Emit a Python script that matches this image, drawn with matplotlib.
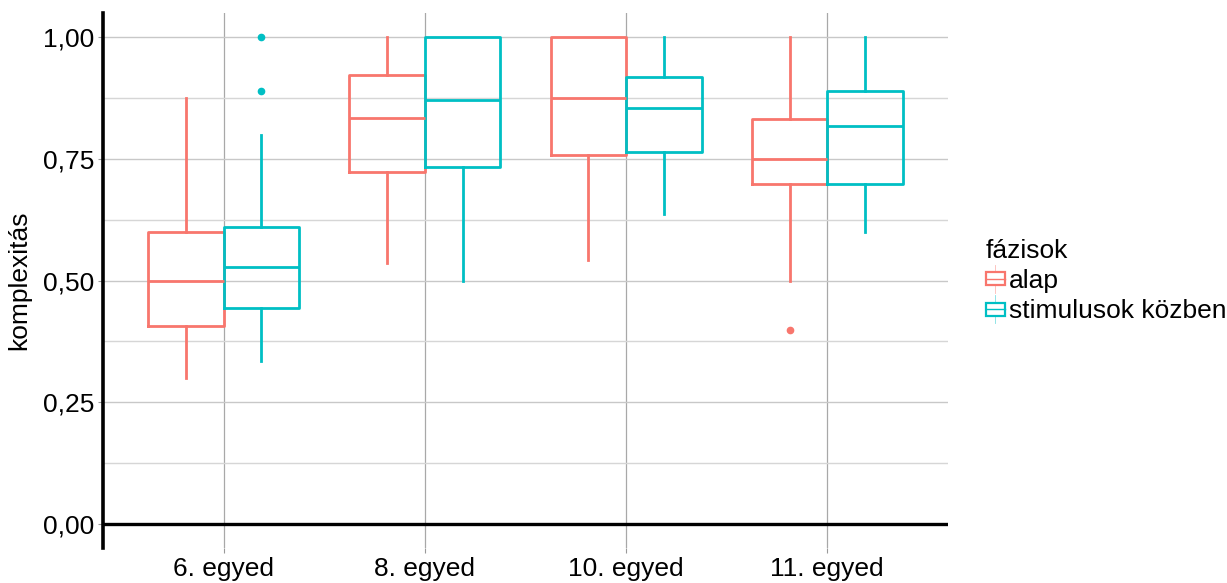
import matplotlib
matplotlib.use('Agg')
import matplotlib.pyplot as plt
from matplotlib.legend_handler import HandlerBase
from matplotlib.patches import Rectangle
from matplotlib.lines import Line2D
from matplotlib.ticker import FixedLocator

plt.rcParams['font.family'] = ['Liberation Sans', 'DejaVu Sans']

# egyedek és fázisok
egyedek = ['6. egyed', '8. egyed', '10. egyed', '11. egyed']
fazisok = ['alap', 'stimulusok közben']
szinek = ['#F8766D', '#00BFC4']

# dobozdiagram statisztikák fázisonként (egyedek sorrendjében)
alap_whislo = [0.300, 0.537, 0.543, 0.500]
alap_q1 = [0.406, 0.723, 0.758, 0.698]
alap_med = [0.500, 0.835, 0.875, 0.750]
alap_q3 = [0.600, 0.923, 1.000, 0.833]
alap_whishi = [0.875, 1.000, 1.000, 1.000]
alap_fliers = [[], [], [], [0.398]]

stim_whislo = [0.335, 0.500, 0.636, 0.600]
stim_q1 = [0.444, 0.733, 0.765, 0.698]
stim_med = [0.527, 0.871, 0.854, 0.818]
stim_q3 = [0.611, 1.000, 0.919, 0.889]
stim_whishi = [0.800, 1.000, 1.000, 1.000]
stim_fliers = [[1.000, 0.889], [], [], []]


def stats(lo, q1, med, q3, hi, fl):
    return [dict(whislo=a, q1=b, med=c, q3=d, whishi=e, fliers=f)
            for a, b, c, d, e, f in zip(lo, q1, med, q3, hi, fl)]


csoportok = [
    stats(alap_whislo, alap_q1, alap_med, alap_q3, alap_whishi, alap_fliers),
    stats(stim_whislo, stim_q1, stim_med, stim_q3, stim_whishi, stim_fliers),
]


class BoxHandler(HandlerBase):
    # kis doboz jel a jelmagyarázatba
    def create_artists(self, legend, orig_handle, xdescent, ydescent,
                       width, height, fontsize, trans):
        c = orig_handle.get_edgecolor()
        x0, y0 = -xdescent, -ydescent
        bw, bh = width, height * 0.6
        by = y0 + (height - bh) / 2
        cx = x0 + width / 2
        box = Rectangle((x0, by), bw, bh, facecolor='white', edgecolor=c,
                        lw=1.6, transform=trans)
        med = Line2D([x0, x0 + bw], [by + bh / 2] * 2, color=c, lw=1.0,
                     transform=trans)
        w1 = Line2D([cx, cx], [y0 - height * 0.15, by], color=c, lw=0.6,
                    alpha=0.5, transform=trans)
        w2 = Line2D([cx, cx], [by + bh, y0 + height * 1.15], color=c, lw=0.6,
                    alpha=0.5, transform=trans)
        return [w1, w2, box, med]


fig = plt.figure(figsize=(12.27, 5.83), dpi=100)
ax = fig.add_axes([0.0839, 0.060, 0.6887, 0.9177])

x = list(range(1, len(egyedek) + 1))
dodge = [-0.1875, 0.1875]
for st, color, d in zip(csoportok, szinek, dodge):
    lp = dict(color=color, lw=2.0)
    ax.bxp(st, positions=[i + d for i in x], widths=0.375,
           showcaps=False, patch_artist=False,
           boxprops=lp, whiskerprops=lp, medianprops=lp,
           flierprops=dict(marker='o', markersize=4.5,
                           markerfacecolor=color, markeredgecolor=color),
           manage_ticks=False)

ax.axhline(0, color='black', lw=2.4, zorder=3)

ax.set_xlim(0.4, 4.6)
ax.set_ylim(-0.05, 1.05)
ax.set_xticks(x)
ax.set_xticklabels(egyedek)
ax.set_yticks([0, 0.25, 0.5, 0.75, 1.0])
ax.set_yticklabels(['0,00', '0,25', '0,50', '0,75', '1,00'])
ax.yaxis.set_minor_locator(FixedLocator([0.125, 0.375, 0.625, 0.875]))

ax.grid(True, which='major', axis='y', color='#c8c8c8', lw=1.0)
ax.grid(True, which='minor', axis='y', color='#d6d6d6', lw=1.0)
ax.grid(True, which='major', axis='x', color='#a8a8a8', lw=0.9)
ax.set_axisbelow(True)

for s in ['top', 'right', 'bottom']:
    ax.spines[s].set_visible(False)
ax.spines['left'].set_linewidth(2.6)
ax.spines['left'].set_color('black')

ax.tick_params(axis='both', which='major', labelsize=19, color='#999999',
               length=3.5, width=0.8, pad=3)
ax.tick_params(axis='y', which='minor', length=0)
ax.set_ylabel('komplexitás', fontsize=19, labelpad=8)

handles = [Rectangle((0, 0), 1, 1, edgecolor=c, facecolor='white')
           for c in szinek]
leg = ax.legend(handles, fazisok, title='fázisok', fontsize=19,
                title_fontsize=19, frameon=False, loc='center left',
                bbox_to_anchor=(0.7925, 0.518), bbox_transform=fig.transFigure,
                handler_map={Rectangle: BoxHandler()},
                handlelength=0.75, handleheight=0.9, handletextpad=0.15,
                labelspacing=0.2, borderpad=0, alignment='left')

fig.savefig('out.png', dpi=100)
